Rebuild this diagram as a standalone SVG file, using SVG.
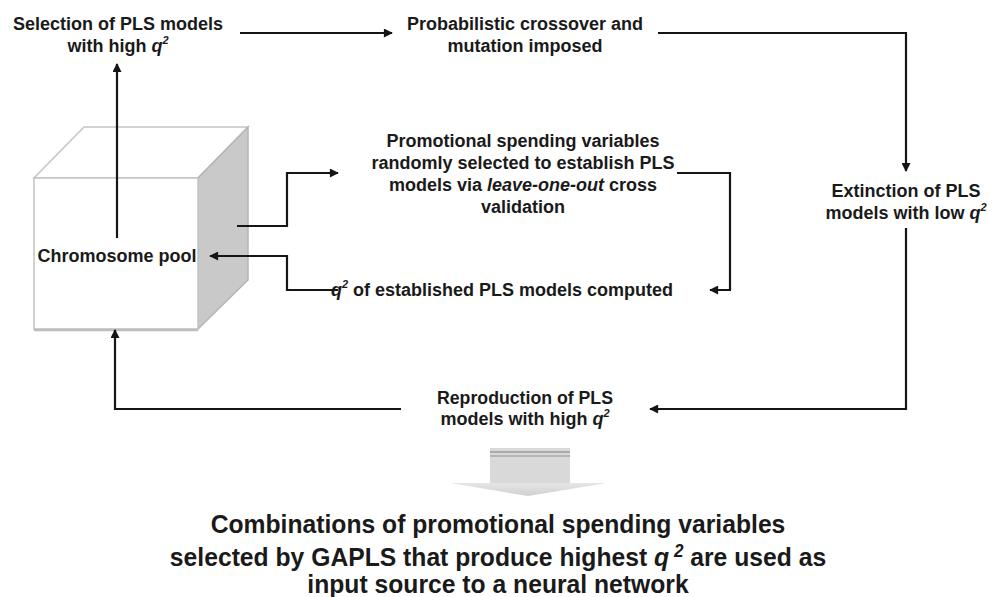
<svg xmlns="http://www.w3.org/2000/svg" width="1002" height="597" viewBox="0 0 1002 597">
<style>
.t{font-family:"Liberation Sans",Arial,sans-serif;font-weight:bold;font-size:18px;fill:#1a1a1a;text-anchor:middle}
.b{font-family:"Liberation Sans",Arial,sans-serif;font-weight:bold;font-size:26px;fill:#1a1a1a;text-anchor:middle}
.i{font-style:italic}
.sup{font-size:11px;font-style:italic}
.c{fill:none;stroke:#151515;stroke-width:2.2}
</style>
<defs>
<marker id="ah" viewBox="0 0 10 10" refX="9" refY="5" markerWidth="10" markerHeight="9" markerUnits="userSpaceOnUse" orient="auto">
<path d="M0,0 L10,5 L0,10 z" fill="#151515"/>
</marker>
<linearGradient id="hg" x1="0" y1="0" x2="0" y2="1">
<stop offset="0" stop-color="#e6e6e6"/>
<stop offset="1" stop-color="#cfcfcf"/>
</linearGradient>
</defs>
<rect width="1002" height="597" fill="#ffffff"/>

<g id="chromosome-pool">
<polygon points="34,178 84,127 248,127 198,178" fill="#ffffff" stroke="#c4c4c4" stroke-width="1.5"/>
<polygon points="198,178 248,127 248,280 198,329" fill="#c9c9c9" stroke="#b5b5b5" stroke-width="1.5"/>
<rect x="34" y="178" width="164" height="151" fill="#ffffff" stroke="#c4c4c4" stroke-width="1.5"/>
<line x1="34" y1="330" x2="198" y2="330" stroke="#bdbdbd" stroke-width="2.5"/>
<text class="t" x="117" y="262">Chromosome pool</text>
</g>

<g id="selection">
<text class="t" x="118" y="30">Selection of PLS models</text>
<text class="t" x="118" y="52">with high <tspan class="i">q</tspan><tspan class="sup" dy="-8">2</tspan></text>
</g>

<g id="crossover">
<text class="t" x="525" y="30">Probabilistic crossover and</text>
<text class="t" x="525" y="52">mutation imposed</text>
</g>

<g id="extinction">
<text class="t" x="906" y="197">Extinction of PLS</text>
<text class="t" x="906" y="219">models with low <tspan class="i">q</tspan><tspan class="sup" dy="-8">2</tspan></text>
</g>

<g id="random-selection">
<text class="t" x="523" y="147">Promotional spending variables</text>
<text class="t" x="523" y="169">randomly selected to establish PLS</text>
<text class="t" x="523" y="191">models via <tspan class="i">leave-one-out</tspan> cross</text>
<text class="t" x="523" y="213">validation</text>
</g>

<g id="q2-computed">
<text class="t" x="502" y="296"><tspan class="i">q</tspan><tspan class="sup" dy="-8">2</tspan><tspan dy="8"> of established PLS models computed</tspan></text>
</g>

<g id="reproduction">
<text class="t" x="525" y="404" textLength="176" lengthAdjust="spacingAndGlyphs">Reproduction of PLS</text>
<text class="t" x="525" y="425">models with high <tspan class="i">q</tspan><tspan class="sup" dy="-8">2</tspan></text>
</g>

<g id="output-arrow">
<rect x="490" y="448" width="80" height="35" fill="#d9d9d9"/>
<line x1="490" y1="452" x2="570" y2="452" stroke="#9a9a9a" stroke-width="1.5"/>
<line x1="490" y1="456" x2="570" y2="456" stroke="#a8a8a8" stroke-width="1.5"/>
<polygon points="450,483 607,483 528,496" fill="url(#hg)"/>
</g>

<g id="result">
<g transform="translate(498,0) scale(0.95,1)">
<text class="b" x="0" y="533">Combinations of promotional spending variables</text>
<text class="b" x="0" y="566">selected by GAPLS that produce highest <tspan class="i">q</tspan><tspan font-size="18" class="i" dy="-9"> 2</tspan><tspan dy="9"> are used as</tspan></text>
<text class="b" x="0" y="593">input source to a neural network</text>
</g>
</g>

<g id="connectors">
<path class="c" d="M117,238 V64" marker-end="url(#ah)"/>
<path class="c" d="M240,33 H392" marker-end="url(#ah)"/>
<path class="c" d="M658,33 H906 V171" marker-end="url(#ah)"/>
<path class="c" d="M906,228 V409 H650" marker-end="url(#ah)"/>
<path class="c" d="M401,409 H115 V330" marker-end="url(#ah)"/>
<path class="c" d="M237,226 H287 V173 H338" marker-end="url(#ah)"/>
<path class="c" d="M338,290 H287 V256 H210" marker-end="url(#ah)"/>
<path class="c" d="M677,173 H730 V290 H710" marker-end="url(#ah)"/>
</g>
</svg>
